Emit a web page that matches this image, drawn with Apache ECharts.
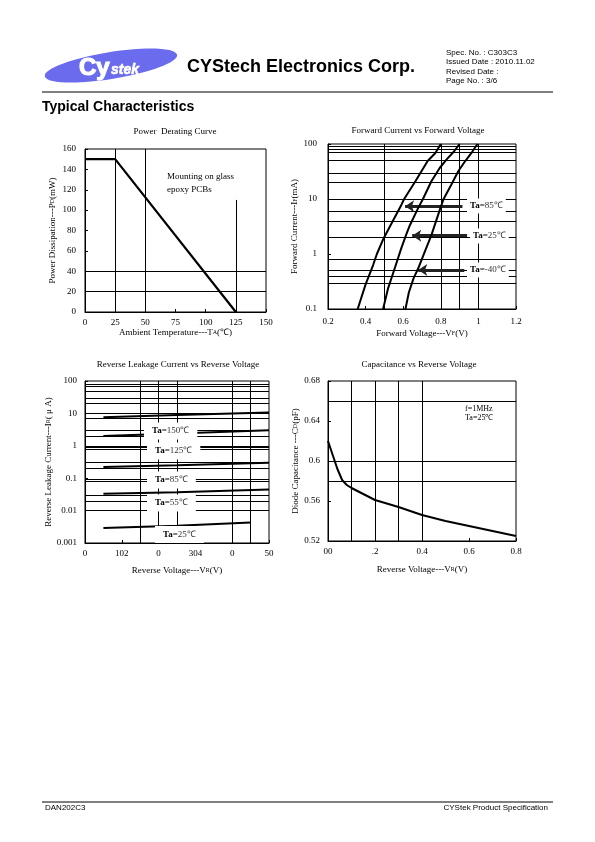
<!DOCTYPE html>
<html>
<head>
<meta charset="utf-8">
<script src="https://cdn.jsdelivr.net/npm/echarts/dist/echarts.min.js"></script>
<style>html,body{margin:0;padding:0;background:#fff}#c{width:595px;height:842px}</style>
</head>
<body>
<div id="c"></div>
<script>
// ---------------- DATA ----------------
// Power derating curve
const powerTemp = [0, 25, 125];
const powerDiss = [150, 150, 0];
const powerVGrid = [25, 50];
const powerHGrid = [20, 40];

// Forward current vs forward voltage (V, mA)
const fwdV85 = [0.358, 0.40, 0.44, 0.46, 0.495, 0.53, 0.59, 0.605, 0.665, 0.73, 0.77, 0.80];
const fwdI85 = [0.1, 0.28, 0.63, 1.0, 1.9, 3.2, 7.8, 10, 21, 49, 68, 100];
const fwdV25 = [0.493, 0.52, 0.555, 0.59, 0.615, 0.635, 0.68, 0.705, 0.75, 0.795, 0.83, 0.87, 0.90];
const fwdI25 = [0.1, 0.24, 0.55, 1.28, 2.2, 3.3, 6.9, 10, 21, 37, 52, 73, 100];
const fwdVm40 = [0.612, 0.63, 0.655, 0.68, 0.715, 0.75, 0.795, 0.815, 0.855, 0.893, 0.93, 0.962, 0.995];
const fwdIm40 = [0.1, 0.2, 0.36, 0.55, 1.1, 2.2, 6.4, 10, 18, 32, 49, 68, 100];
const fwdYLabels = ['0.1', '1', '10', '100'];
const fwdVGrid = [0.5, 0.8, 0.9, 1.0];
const fwdHGrid = [90, 80, 70, 50, 30, 20, 10, 6, 4, 2, 0.8, 0.5, 0.4, 0.3];
const fwdArrowY = [7.4, 2.15, 0.51];
const fwdArrowFrom = [0.915, 0.94, 0.925];
const fwdArrowTo = [0.61, 0.648, 0.68];

// Reverse leakage current vs reverse voltage (V, uA)
const revV = [5, 25, 50];
const revV25 = [5, 25, 45];
const rev150 = [7.6, 9.0, 10.6];
const rev125 = [2.0, 2.4, 3.0];
const rev85 = [0.22, 0.25, 0.30];
const rev55 = [0.033, 0.037, 0.045];
const rev25 = [0.0029, 0.0034, 0.0043];
const revXLabels = ['0', '102', '0', '304', '0', '50'];
const revYLabels = ['0.001', '0.01', '0.1', '1', '10', '100'];
const revVGrid = [15, 20, 25, 40, 45];
const revHGrid = [80, 70, 50, 30, 20, 10, 7, 3, 2, 1, 0.9, 0.8, 0.3, 0.2, 0.09, 0.08, 0.03, 0.02, 0.01, 0.008, 0.002];

// Capacitance vs reverse voltage (V, pF)
const capV = [0, 0.02, 0.04, 0.06, 0.08, 0.1, 0.15, 0.2, 0.3, 0.4, 0.5, 0.6, 0.7, 0.8];
const capC = [0.620, 0.606, 0.592, 0.581, 0.576, 0.573, 0.567, 0.561, 0.554, 0.546, 0.540, 0.535, 0.530, 0.525];
const capXLabels = ['00', '.2', '0.4', '0.6', '0.8'];
const capVGrid = [0.1, 0.2, 0.3, 0.4];
const capHGrid = [0.58, 0.6, 0.66];

// ---------------- STYLE ----------------
const SERIF = '"Liberation Serif", "Times New Roman", serif';
const SANS = '"Liberation Sans", Arial, sans-serif';
const zip = (a, b) => a.map((v, i) => [v, b[i]]);

function gridMarks(v, h, extra) {
  const d = v.map(x => ({xAxis: x})).concat(h.map(y => ({yAxis: y})));
  return {
    silent: true, symbol: ['none', 'none'], animation: false,
    label: {show: false}, emphasis: {disabled: true},
    lineStyle: {color: '#000', width: 1, type: 'solid'},
    data: d.concat(extra || [])
  };
}
function curve(gi, data, width, marks) {
  const s = {
    type: 'line', xAxisIndex: gi, yAxisIndex: gi, data: data,
    showSymbol: false, symbol: 'none', smooth: false, silent: true,
    lineStyle: {color: '#000', width: width || 2}, z: 5
  };
  if (marks) s.markLine = marks;
  return s;
}
const nameStyle = {
  fontFamily: SERIF, fontSize: 9, color: '#000',
  rich: {s: {fontFamily: SERIF, fontSize: 6, color: '#000'}}
};
function axisBase(extra) {
  return Object.assign({
    axisLine: {show: true, lineStyle: {color: '#000', width: 1}},
    axisTick: {show: true, inside: true, length: 3, lineStyle: {color: '#000'}},
    splitLine: {show: false},
    axisLabel: {fontFamily: SERIF, fontSize: 9, color: '#000'},
    nameLocation: 'middle', nameTextStyle: nameStyle
  }, extra);
}

// arrows on forward chart
const arrowData = fwdArrowY.map((y, i) => [{coord: [fwdArrowFrom[i], y]}, {coord: [fwdArrowTo[i], y]}]);

const option = {
  animation: false,
  backgroundColor: '#fff',
  grid: [
    {left: 85, top: 149, width: 181, height: 163, show: true, borderColor: '#000', borderWidth: 1, backgroundColor: 'transparent'},
    {left: 328, top: 144, width: 188, height: 165, show: true, borderColor: '#000', borderWidth: 1, backgroundColor: 'transparent'},
    {left: 85, top: 381, width: 184, height: 162, show: true, borderColor: '#000', borderWidth: 1, backgroundColor: 'transparent'},
    {left: 328, top: 381, width: 188, height: 160, show: true, borderColor: '#000', borderWidth: 1, backgroundColor: 'transparent'}
  ],
  xAxis: [
    axisBase({gridIndex: 0, type: 'value', min: 0, max: 150, interval: 25,
      name: 'Ambient Temperature---T{s|A}(℃)', nameGap: 13, axisLabel: {fontFamily: SERIF, fontSize: 9, color: '#000', margin: 6}}),
    axisBase({gridIndex: 1, type: 'value', min: 0.2, max: 1.2, interval: 0.2,
      name: 'Forward Voltage---V{s|F}(V)', nameGap: 20, axisLabel: {fontFamily: SERIF, fontSize: 9, color: '#000', margin: 8}}),
    axisBase({gridIndex: 2, type: 'value', min: 0, max: 50, interval: 10,
      name: 'Reverse Voltage---V{s|R}(V)', nameGap: 23,
      axisLabel: {fontFamily: SERIF, fontSize: 9, color: '#000', margin: 6, formatter: (v, i) => revXLabels[i]}}),
    axisBase({gridIndex: 3, type: 'value', min: 0, max: 0.8, interval: 0.2,
      name: 'Reverse Voltage---V{s|R}(V)', nameGap: 24,
      axisLabel: {fontFamily: SERIF, fontSize: 9, color: '#000', margin: 6, formatter: (v, i) => capXLabels[i]}})
  ],
  yAxis: [
    axisBase({gridIndex: 0, type: 'value', min: 0, max: 160, interval: 20,
      name: 'Power Dissipation---P{s|D}(mW)', nameGap: 28, axisLabel: {fontFamily: SERIF, fontSize: 9, color: '#000', margin: 9}}),
    axisBase({gridIndex: 1, type: 'log', logBase: 10, min: 0.1, max: 100,
      name: 'Forward Current---I{s|F}(mA)', nameGap: 25,
      axisLabel: {fontFamily: SERIF, fontSize: 9, color: '#000', margin: 11, formatter: (v, i) => fwdYLabels[i]}}),
    axisBase({gridIndex: 2, type: 'log', logBase: 10, min: 0.001, max: 100,
      name: 'Reverse Leakage Current---I{s|R}( μ A)', nameGap: 29,
      axisLabel: {fontFamily: SERIF, fontSize: 9, color: '#000', margin: 8, formatter: (v, i) => revYLabels[i]}}),
    axisBase({gridIndex: 3, type: 'value', min: 0.52, max: 0.68, interval: 0.04,
      name: 'Diode Capacitance ---C{s|D}(pF)', nameGap: 28, axisLabel: {fontFamily: SERIF, fontSize: 9, color: '#000', margin: 8}})
  ],
  series: [
    curve(0, zip(powerTemp, powerDiss), 2.2,
      gridMarks(powerVGrid, powerHGrid, [[{coord: [125, 0]}, {coord: [125, 110]}]])),
    curve(1, zip(fwdV85, fwdI85), 2, gridMarks(fwdVGrid, fwdHGrid)),
    curve(1, zip(fwdV25, fwdI25), 2, {
      silent: true, symbol: ['none', 'arrow'], symbolSize: 9, animation: false,
      label: {show: false}, emphasis: {disabled: true},
      lineStyle: {color: '#222', width: 3, type: 'solid'}, data: arrowData
    }),
    curve(1, zip(fwdVm40, fwdIm40), 2),
    curve(2, zip(revV, rev150), 2, gridMarks(revVGrid, revHGrid)),
    curve(2, zip(revV, rev125), 2),
    curve(2, zip(revV, rev85), 2),
    curve(2, zip(revV, rev55), 2),
    curve(2, zip(revV25, rev25), 2),
    curve(3, zip(capV, capC), 2, gridMarks(capVGrid, capHGrid))
  ]
};

// ---------------- TEXT / DECOR ----------------
function txt(x, y, text, font, align, extra) {
  return Object.assign({type: 'text', x: x, y: y, z: 100, silent: true,
    style: {text: text, font: font, fill: '#000', align: align || 'left', verticalAlign: 'middle'}}, extra || {});
}
function taLabel(x, y, temp, pad) {
  return {type: 'text', x: x, y: y, z: 100, silent: true,
    style: {
      text: '{b|Ta=}{n|' + temp + '}',
      rich: {
        b: {fontFamily: SERIF, fontSize: 9, fontWeight: 'bold', fill: '#000'},
        n: {fontFamily: SERIF, fontSize: 9, fill: '#333'}
      },
      align: 'left', verticalAlign: 'middle',
      backgroundColor: '#fff', padding: pad || [3, 3]
    }};
}

option.graphic = [
  // header
  {type: 'ellipse', x: 111, y: 65.5, rotation: 0.16, shape: {cx: 0, cy: 0, rx: 67, ry: 13.5},
    style: {fill: '#6b6bee'}, z: 50, silent: true},
  {type: 'text', x: 79, y: 68, z: 100, silent: true,
    style: {text: 'Cy', font: 'bold 24px ' + SANS, fill: '#fff', stroke: '#fff', lineWidth: 1.2, align: 'left', verticalAlign: 'middle'}},
  {type: 'text', x: 111, y: 70, z: 100, silent: true,
    style: {text: 'stek', font: 'bold italic 14px ' + SANS, fill: '#fff', stroke: '#fff', lineWidth: 0.6, align: 'left', verticalAlign: 'middle'}},
  txt(187, 67.5, 'CYStech Electronics Corp.', 'bold 18px ' + SANS),
  txt(446, 53, 'Spec. No. : C303C3', '8px ' + SANS),
  txt(446, 62, 'Issued Date : 2010.11.02', '8px ' + SANS),
  txt(446, 72, 'Revised Date :', '8px ' + SANS),
  txt(446, 81, 'Page No. : 3/6', '8px ' + SANS),
  {type: 'line', shape: {x1: 42, y1: 92, x2: 553, y2: 92}, style: {stroke: '#000', lineWidth: 1}, z: 50, silent: true},
  txt(42, 107, 'Typical Characteristics', 'bold 14px ' + SANS),
  // footer
  {type: 'line', shape: {x1: 42, y1: 802, x2: 553, y2: 802}, style: {stroke: '#000', lineWidth: 1}, z: 50, silent: true},
  txt(45, 807.5, 'DAN202C3', '8px ' + SANS),
  txt(548, 807.5, 'CYStek Product Specification', '8px ' + SANS, 'right'),
  // chart titles
  txt(175, 132, 'Power  Derating Curve', '9px ' + SERIF, 'center'),
  txt(418, 131, 'Forward Current vs Forward Voltage', '9px ' + SERIF, 'center'),
  txt(178, 364.5, 'Reverse Leakage Current vs Reverse Voltage', '9px ' + SERIF, 'center'),
  txt(419, 365, 'Capacitance vs Reverse Voltage', '9px ' + SERIF, 'center'),
  // power annotation
  txt(167, 177, 'Mounting on glass', '9px ' + SERIF),
  txt(167, 189.5, 'epoxy PCBs', '9px ' + SERIF),
  // forward labels
  taLabel(467, 206, '85℃'),
  taLabel(470, 236, '25℃'),
  taLabel(467, 270, '-40℃'),
  // reverse labels
  taLabel(144, 431, '150℃', [4, 8]),
  taLabel(147, 451, '125℃', [4, 8]),
  taLabel(147, 480, '85℃', [4, 8]),
  taLabel(147, 503, '55℃', [4, 8]),
  taLabel(155, 534.5, '25℃', [4, 8]),
  // capacitance note
  txt(465, 409, 'f=1MHz', '8px ' + SERIF),
  txt(465, 418, 'Ta=25℃', '8px ' + SERIF)
];

const chart = echarts.init(document.getElementById('c'), null, {renderer: 'canvas', width: 595, height: 842});
chart.setOption(option);
</script>
</body>
</html>
